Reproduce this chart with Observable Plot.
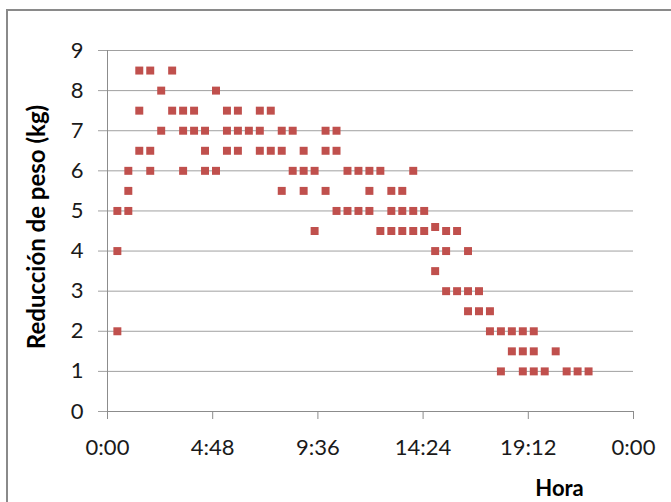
<!DOCTYPE html>
<html><head><meta charset="utf-8">
<script src="https://cdn.jsdelivr.net/npm/d3@7"></script>
<script src="https://cdn.jsdelivr.net/npm/@observablehq/plot@0.6"></script>
<style>
html,body{margin:0;padding:0;background:#fff;}
#chart{position:relative;width:671px;height:502px;overflow:hidden;}
#chart .border{position:absolute;left:6px;top:9px;width:700px;height:600px;border-left:2px solid #8a8a8a;border-top:2px solid #8a8a8a;box-sizing:border-box;}
#chart svg{position:absolute;left:0;top:0;}
</style></head><body><div id="chart"><div class="border"></div></div>
<script>
const horas = [
  "0:27","0:27","0:27",
  "0:57","0:57","0:57",
  "1:27","1:27","1:27",
  "1:57","1:57","1:57",
  "2:27","2:27",
  "2:57","2:57",
  "3:27","3:27","3:27",
  "3:57","3:57",
  "4:27","4:27","4:27",
  "4:57","4:57",
  "5:27","5:27","5:27",
  "5:57","5:57","5:57",
  "6:27",
  "6:57","6:57","6:57",
  "7:27","7:27",
  "7:57","7:57","7:57",
  "8:27","8:27",
  "8:57","8:57","8:57",
  "9:27","9:27",
  "9:57","9:57","9:57",
  "10:27","10:27","10:27",
  "10:57","10:57",
  "11:27","11:27",
  "11:57","11:57","11:57",
  "12:27","12:27",
  "12:57","12:57","12:57",
  "13:27","13:27","13:27",
  "13:57","13:57","13:57",
  "14:27","14:27",
  "14:57","14:57","14:57",
  "15:27","15:27","15:27",
  "15:57","15:57",
  "16:27","16:27","16:27",
  "16:57","16:57",
  "17:27","17:27",
  "17:57","17:57",
  "18:27","18:27",
  "18:57","18:57","18:57",
  "19:27","19:27","19:27",
  "19:57",
  "20:27",
  "20:57",
  "21:27",
  "21:57"
];
const reduccion = [
  5, 4, 2,
  6, 5.5, 5,
  8.5, 7.5, 6.5,
  8.5, 6.5, 6,
  8, 7,
  8.5, 7.5,
  7.5, 7, 6,
  7.5, 7,
  7, 6.5, 6,
  8, 6,
  7.5, 7, 6.5,
  7.5, 7, 6.5,
  7,
  7.5, 7, 6.5,
  7.5, 6.5,
  7, 6.5, 5.5,
  7, 6,
  6.5, 6, 5.5,
  6, 4.5,
  7, 6.5, 5.5,
  7, 6.5, 5,
  6, 5,
  6, 5,
  6, 5.5, 5,
  6, 4.5,
  5.5, 5, 4.5,
  5.5, 5, 4.5,
  6, 5, 4.5,
  5, 4.5,
  4.6, 4, 3.5,
  4.5, 4, 3,
  4.5, 3,
  4, 3, 2.5,
  3, 2.5,
  2.5, 2,
  2, 1,
  2, 1.5,
  2, 1.5, 1,
  2, 1.5, 1,
  1,
  1.5,
  1,
  1,
  1
];
const xTicks = [0, 4.8, 9.6, 14.4, 19.2, 24];
const yTicks = [0, 1, 2, 3, 4, 5, 6, 7, 8, 9];
const xTitle = "Hora";
const yTitle = "Reducción de peso (kg)";

const toHours = s => { const [h, m] = s.split(":").map(Number); return h + m / 60; };
const data = horas.map((h, i) => ({hora: toHours(h), kg: reduccion[i]}));
const fmt = d => { const t = Math.round(d * 60) % 1440; return Math.floor(t / 60) + ":" + String(t % 60).padStart(2, "0"); };

const plot = Plot.plot({
  width: 671, height: 502,
  marginLeft: 107, marginRight: 38, marginTop: 50, marginBottom: 91,
  style: {fontFamily: "Lato, sans-serif", fontSize: "22px", color: "#1a1a1a", background: "transparent", overflow: "visible"},
  x: {domain: [0, 24]},
  y: {domain: [0, 9]},
  marks: [
    Plot.gridY(yTicks, {stroke: "#a0a0a0", strokeOpacity: 1}),
    Plot.axisY(yTicks, {tickSize: 9, tickPadding: 15, stroke: "#a0a0a0", fill: "#1a1a1a", label: null}),
    Plot.axisX(xTicks, {tickSize: 8, tickPadding: 20, tickFormat: fmt, stroke: "#8c8c8c", fill: "#1a1a1a", label: null}),
    Plot.ruleX([0], {stroke: "#8c8c8c"}),
    Plot.ruleY([0], {stroke: "#8c8c8c"}),
    Plot.dot(data, {x: "hora", y: "kg", symbol: "square", r: 4.5, fill: "#C0504D"}),
    Plot.text([yTitle], {frameAnchor: "left", textAnchor: "middle", lineAnchor: "middle", dx: -70, dy: -4, rotate: -90, fontWeight: "bold", fontSize: 24, fill: "#000"}),
    Plot.text([xTitle], {frameAnchor: "bottom-right", textAnchor: "middle", lineAnchor: "middle", dx: -74, dy: 77, fontWeight: "bold", fontSize: 22, fill: "#000"})
  ]
});
document.getElementById("chart").appendChild(plot);
</script>
</body></html>
